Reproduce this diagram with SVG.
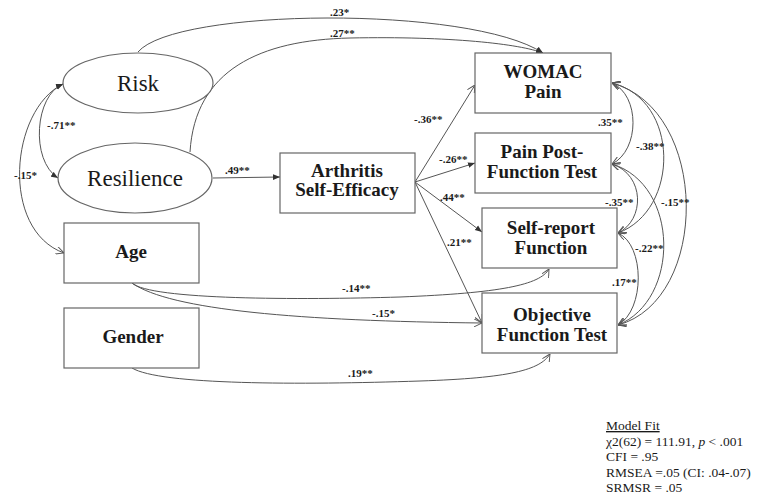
<svg xmlns="http://www.w3.org/2000/svg" width="762" height="501" viewBox="0 0 762 501">
<style>
  .node { fill: #ffffff; stroke: #666666; stroke-width: 1.2; }
  .lbl { font-family: "Liberation Serif", "DejaVu Serif", serif; font-weight: bold; font-size: 19px; fill: #1a1a1a; text-anchor: middle; }
  .ell { font-family: "Liberation Serif", "DejaVu Serif", serif; font-size: 23px; fill: #1a1a1a; text-anchor: middle; }
  .coef { font-family: "Liberation Serif", "DejaVu Serif", serif; font-weight: bold; font-size: 11px; fill: #1a1a1a; }
  .edge { fill: none; stroke: #555555; stroke-width: 1; }
  .fit { font-family: "Liberation Serif", "DejaVu Serif", serif; font-size: 13.5px; fill: #1a1a1a; }
</style>
<defs>
  <marker id="arr" viewBox="0 0 10 10" refX="10" refY="5" markerWidth="7" markerHeight="7" markerUnits="userSpaceOnUse" orient="auto-start-reverse">
    <path d="M0,1 L10,5 L0,9 z" fill="#333333"/>
  </marker>
  <marker id="open" viewBox="0 0 10 10" refX="10" refY="5" markerWidth="8" markerHeight="8" markerUnits="userSpaceOnUse" orient="auto-start-reverse">
    <path d="M0,0 L10,5 L0,10" fill="none" stroke="#555555" stroke-width="1.2"/>
  </marker>
</defs>
<rect width="762" height="501" fill="#ffffff"/>

<g id="connectors">
  <path class="edge" d="M138,52 C 175,8 470,5 543,53" marker-end="url(#arr)"/>
  <path class="edge" d="M190,152 C 195,70 260,40 350,38 C 450,36 520,44 543,53" marker-end="url(#arr)"/>
  <path class="edge" d="M213,178 L280,177" marker-end="url(#arr)"/>
  <path class="edge" d="M415,182 L475,85" marker-end="url(#open)"/>
  <path class="edge" d="M415,182 L475,163" marker-end="url(#arr)"/>
  <path class="edge" d="M415,182 L482,232" marker-end="url(#arr)"/>
  <path class="edge" d="M415,182 L482,323" marker-end="url(#open)"/>
  <path class="edge" d="M132,283 C 150,300 300,300 400,297 C 500,293 540,285 549,269" marker-end="url(#open)"/>
  <path class="edge" d="M132,283 C 170,310 300,321 482,323" marker-end="url(#open)"/>
  <path class="edge" d="M132,368 C 160,385 300,385 420,381 C 510,378 540,370 550,354" marker-end="url(#open)"/>
  <path class="edge" d="M63,84 C 35,95 30,160 58,178" marker-start="url(#arr)" marker-end="url(#arr)"/>
  <path class="edge" d="M63,84 C 10,110 0,230 64,253" marker-start="url(#arr)" marker-end="url(#open)"/>
  <path class="edge" d="M612,83 C 640,95 640,150 612,164" marker-start="url(#open)" marker-end="url(#open)"/>
  <path class="edge" d="M612,83 C 680,100 680,210 618,233" marker-start="url(#open)" marker-end="url(#open)"/>
  <path class="edge" d="M612,83 C 710,110 710,300 618,325" marker-start="url(#open)" marker-end="url(#open)"/>
  <path class="edge" d="M612,164 C 645,175 645,220 618,233" marker-start="url(#open)" marker-end="url(#open)"/>
  <path class="edge" d="M612,164 C 680,185 680,300 618,325" marker-start="url(#open)" marker-end="url(#open)"/>
  <path class="edge" d="M618,233 C 645,245 645,310 618,325" marker-start="url(#open)" marker-end="url(#open)"/>
</g>

<g id="coefficients">
  <text class="coef" x="330" y="16">.23*</text>
  <text class="coef" x="330" y="37">.27**</text>
  <text class="coef" x="47" y="129">-.71**</text>
  <text class="coef" x="14" y="179">-.15*</text>
  <text class="coef" x="225" y="174">.49**</text>
  <text class="coef" x="414" y="123">-.36**</text>
  <text class="coef" x="439" y="163">-.26**</text>
  <text class="coef" x="440" y="201">.44**</text>
  <text class="coef" x="447" y="246">.21**</text>
  <text class="coef" x="598" y="126">.35**</text>
  <text class="coef" x="636" y="150">-.38**</text>
  <text class="coef" x="605" y="206">-.35**</text>
  <text class="coef" x="661" y="206">-.15**</text>
  <text class="coef" x="635" y="252">-.22**</text>
  <text class="coef" x="612" y="286">.17**</text>
  <text class="coef" x="342" y="292">-.14**</text>
  <text class="coef" x="372" y="317">-.15*</text>
  <text class="coef" x="348" y="377">.19**</text>
</g>

<g id="risk">
  <ellipse class="node" cx="138" cy="83" rx="75" ry="30"/>
  <text class="ell" x="138" y="91">Risk</text>
</g>
<g id="resilience">
  <ellipse class="node" cx="135" cy="178" rx="77" ry="35"/>
  <text class="ell" x="135" y="186">Resilience</text>
</g>
<g id="age">
  <rect class="node" x="64" y="223" width="135" height="60"/>
  <text class="lbl" x="131" y="258">Age</text>
</g>
<g id="gender">
  <rect class="node" x="64" y="308" width="135" height="60"/>
  <text class="lbl" x="133" y="343">Gender</text>
</g>
<g id="arthritis">
  <rect class="node" x="280" y="153" width="135" height="60"/>
  <text class="lbl" x="347" y="177">Arthritis</text>
  <text class="lbl" x="347" y="196">Self-Efficacy</text>
</g>
<g id="womac">
  <rect class="node" x="475" y="53" width="136" height="60"/>
  <text class="lbl" x="543" y="78">WOMAC</text>
  <text class="lbl" x="543" y="98">Pain</text>
</g>
<g id="painpost">
  <rect class="node" x="475" y="133" width="136" height="60"/>
  <text class="lbl" x="542" y="158">Pain Post-</text>
  <text class="lbl" x="542" y="178">Function Test</text>
</g>
<g id="selfreport">
  <rect class="node" x="482" y="208" width="135" height="60"/>
  <text class="lbl" x="551" y="234">Self-report</text>
  <text class="lbl" x="551" y="254">Function</text>
</g>
<g id="objective">
  <rect class="node" x="482" y="293" width="135" height="60"/>
  <text class="lbl" x="552" y="321">Objective</text>
  <text class="lbl" x="552" y="341">Function Test</text>
</g>

<g id="modelfit">
  <text class="fit" x="606" y="430" text-decoration="underline">Model Fit</text>
  <text class="fit" x="606" y="445.5">χ2(62) = 111.91, <tspan font-style="italic">p</tspan> &lt; .001</text>
  <text class="fit" x="606" y="461">CFI = .95</text>
  <text class="fit" x="606" y="476.5">RMSEA =.05 (CI: .04-.07)</text>
  <text class="fit" x="606" y="492">SRMSR = .05</text>
</g>
</svg>
